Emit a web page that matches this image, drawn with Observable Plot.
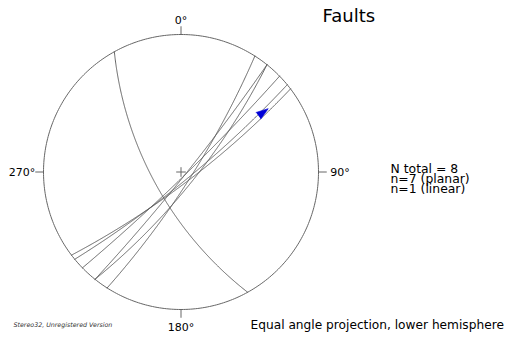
<!DOCTYPE html>
<html><head><meta charset="utf-8">
<script src="https://cdn.jsdelivr.net/npm/d3@7"></script>
<script src="https://cdn.jsdelivr.net/npm/@observablehq/plot@0.6"></script>
<style>
html,body{margin:0;padding:0;background:#fff;}
</style></head><body><div id="chart"></div>
<script>
// ---- data ----
const planeIds = ["A", "B", "C", "D", "E", "F", "G"];
const dipDirections = [241, 122.5, 128.7, 128.7, 135.8, 140.6, 142.8];
const dipAngles = [67, 81, 78, 86, 86, 82.5, 80.7];
const lineTrends = [54];
const linePlunges = [17];
const directionAngles = [0, 90, 180, 270];
const directionLabels = ["0°", "90°", "180°", "270°"];
const titleText = "Faults";
const statLines = ["N total = 8", "n=7 (planar)", "n=1 (linear)"];
const captionText = "Equal angle projection, lower hemisphere";
const footerText = "Stereo32, Unregistered Version";

// ---- stereographic (equal angle) lower-hemisphere projection ----
const rad = Math.PI / 180;
function project(e, n, d) { return [e / (1 + d), n / (1 + d)]; }
function greatCircle(id, dd, dip) {
  const s = (dd - 90) * rad, dr = dd * rad, dp = dip * rad;
  const sv = [Math.sin(s), Math.cos(s), 0];
  const dv = [Math.cos(dp) * Math.sin(dr), Math.cos(dp) * Math.cos(dr), Math.sin(dp)];
  return d3.range(0, 180.5, 0.5).map(a => {
    const c = Math.cos(a * rad), si = Math.sin(a * rad);
    const [x, y] = project(c * sv[0] + si * dv[0], c * sv[1] + si * dv[1], Math.max(0, si * dv[2]));
    return {id, x, y};
  });
}
const planeRows = planeIds.flatMap((id, i) => greatCircle(id, dipDirections[i], dipAngles[i]));
const lineRows = lineTrends.map((t, i) => {
  const p = linePlunges[i] * rad, tr = t * rad;
  const [x, y] = project(Math.cos(p) * Math.sin(tr), Math.cos(p) * Math.cos(tr), Math.sin(p));
  return {x, y, trend: t};
});
const primitive = d3.range(0, 361, 1).map(a => ({x: Math.sin(a * rad), y: Math.cos(a * rad)}));
const dirRows = directionAngles.map((a, i) => ({a, label: directionLabels[i],
  x: Math.sin(a * rad), y: Math.cos(a * rad)}));

const cx = 180.5, cy = 171.5, R = 137.5;
const font = "'DejaVu Sans', sans-serif";
const stroke = "#555";

const chart = Plot.plot({
  width: 509, height: 345, margin: 0,
  x: {domain: [-1, 1], range: [cx - R, cx + R], axis: null},
  y: {domain: [-1, 1], range: [cy + R, cy - R], axis: null},
  style: {background: "#fff", fontFamily: font, color: "#000"},
  marks: [
    Plot.line(primitive, {x: "x", y: "y", stroke: "#666", strokeWidth: 1}),
    Plot.link(dirRows, {x1: d => d.x, y1: d => d.y, x2: d => d.x * 1.06, y2: d => d.y * 1.06, stroke: "#666", strokeWidth: 1}),
    Plot.link([0], {x1: -0.035, x2: 0.035, y1: 0, y2: 0, stroke: "#666", strokeWidth: 1}),
    Plot.link([0], {x1: 0, x2: 0, y1: -0.035, y2: 0.035, stroke: "#666", strokeWidth: 1}),
    Plot.line(planeRows, {x: "x", y: "y", z: "id", stroke, strokeWidth: 0.9}),
    Plot.vector(lineRows, {x: "x", y: "y", rotate: "trend", length: 12, shape: "spike", r: 4, anchor: "middle", fill: "#0000d8", stroke: "#0000d8", strokeWidth: 0.6}),
    Plot.text(dirRows.filter(d => d.a === 0), {x: "x", y: d => d.y * 1.075, text: "label", lineAnchor: "bottom", fontSize: 11}),
    Plot.text(dirRows.filter(d => d.a === 180), {x: "x", y: d => d.y * 1.1, text: "label", lineAnchor: "top", fontSize: 11}),
    Plot.text(dirRows.filter(d => d.a === 90), {x: d => d.x * 1.085, y: "y", text: "label", textAnchor: "start", fontSize: 11}),
    Plot.text(dirRows.filter(d => d.a === 270), {x: d => d.x * 1.06, y: "y", text: "label", textAnchor: "end", fontSize: 11}),
    Plot.text([titleText], {frameAnchor: "top-left", dx: 322, dy: 9, textAnchor: "start", lineAnchor: "top", fontSize: 18, text: d => d}),
    Plot.text([statLines.join("\n")], {frameAnchor: "top-left", dx: 390, dy: 165, textAnchor: "start", lineAnchor: "top", fontSize: 12.4, lineHeight: 0.82, text: d => d}),
    Plot.text([captionText], {frameAnchor: "top-left", dx: 250, dy: 320, textAnchor: "start", lineAnchor: "top", fontSize: 12.2, text: d => d}),
    Plot.text([footerText], {frameAnchor: "top-left", dx: 13, dy: 322, textAnchor: "start", lineAnchor: "top", fontSize: 6.3, fontStyle: "italic", fill: "#333", text: d => d})
  ]
});
document.getElementById("chart").append(chart);
</script></body></html>
